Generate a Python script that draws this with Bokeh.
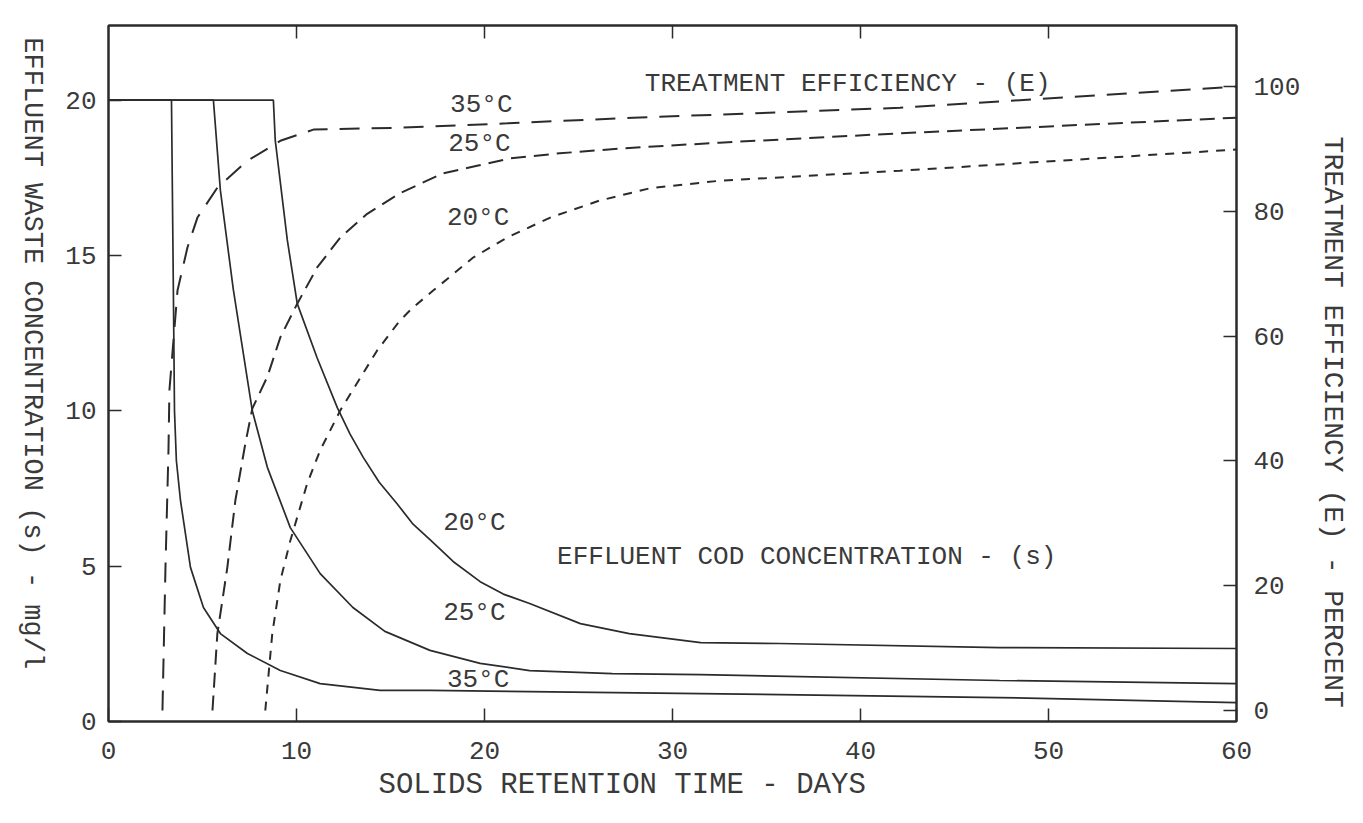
import math
from bokeh.plotting import figure
from bokeh.models import Range1d, LinearAxis, Label, FixedTicker, Title
from bokeh.layouts import row
from bokeh.embed import file_html
from bokeh.resources import INLINE

# ---- data ----
x_ticks = [0, 10, 20, 30, 40, 50, 60]
s_ticks = [0, 5, 10, 15, 20]
e_ticks = [0, 20, 40, 60, 80, 100]

# Effluent COD concentration S (mg/l) vs solids retention time (days)
days_s35 = [0, 3.35, 3.45, 3.51, 3.61, 3.83, 4.36, 5.05, 5.95, 7.39, 9.14, 11.26, 14.45, 17.1, 31.5, 47.4, 60]
s_35 = [20, 20, 13.9, 10.0, 8.4, 7.11, 4.96, 3.67, 2.83, 2.19, 1.64, 1.22, 1.0, 1.0, 0.9, 0.77, 0.61]

days_s25 = [0, 5.58, 5.95, 6.64, 7.65, 8.45, 9.67, 11.26, 13.0, 14.7, 17.1, 19.77, 22.4, 26.8, 31.5, 47.4, 60]
s_25 = [20, 20, 17.1, 13.9, 10.0, 8.18, 6.24, 4.76, 3.67, 2.9, 2.29, 1.87, 1.64, 1.54, 1.51, 1.32, 1.22]

days_s20 = [0, 8.77, 8.87, 9.51, 10.04, 11.1, 12.17, 12.85, 13.55, 14.4, 15.36, 16.2, 17.1, 18.33, 19.77, 21.0, 22.4, 25.1, 27.7, 31.5, 35.7, 47.4, 60]
s_20 = [20, 20, 18.7, 15.5, 13.45, 11.7, 10.1, 9.25, 8.5, 7.7, 7.0, 6.35, 5.85, 5.15, 4.5, 4.1, 3.8, 3.15, 2.83, 2.54, 2.51, 2.38, 2.35]

# Treatment efficiency E (percent)
days_e35 = [2.87, 3.03, 3.19, 3.24, 3.67, 4.2, 4.73, 5.79, 7.39, 9.14, 10.9, 15.5, 21.2, 27.9, 32.5, 42.1, 60]
e_35 = [0, 22.9, 41.7, 51.3, 67.3, 74.2, 79.0, 83.8, 88.1, 91.3, 93.1, 93.4, 94.1, 95.0, 95.5, 96.6, 100.0]

days_e25 = [5.53, 5.79, 6.32, 6.75, 7.28, 7.65, 8.45, 9.14, 10.04, 11.1, 12.33, 13.76, 15.5, 17.8, 19.6, 21.4, 24.0, 27.9, 32.5, 42.1, 60]
e_25 = [0, 12.3, 22.9, 33.7, 42.8, 48.4, 53.5, 59.8, 65.2, 71.0, 75.8, 79.6, 82.9, 86.1, 87.3, 88.5, 89.3, 90.2, 91.0, 92.5, 95.0]

days_e20 = [8.34, 8.71, 9.14, 9.67, 10.57, 11.26, 12.33, 14.29, 15.5, 16.2, 17.27, 19.4, 21.2, 23.5, 26.1, 28.8, 32.5, 42.1, 60]
e_20 = [0, 12.3, 20.8, 27.2, 36.4, 41.7, 48.1, 57.7, 62.5, 64.6, 67.3, 72.6, 75.8, 79.0, 81.7, 83.7, 84.9, 86.5, 89.9]

FONT = "Liberation Mono"
INK = "#2b2b2b"
TXT = "#3a3a3a"

W, H = 1347, 807
LEFT_W = 60
RIGHT_W = 44

def title_strip(width, cx, cy, text, size):
    s = figure(width=width, height=H, x_range=Range1d(0, 1), y_range=Range1d(0, 1),
               output_backend="svg", toolbar_location=None,
               min_border_left=0, min_border_right=0, min_border_top=0, min_border_bottom=0)
    s.axis.visible = False
    s.grid.visible = False
    s.outline_line_color = None
    s.add_layout(Label(x=cx / width, y=1 - cy / H, text=text,
                       text_font=FONT, text_font_size=size, text_color=TXT,
                       text_align="center", text_baseline="middle", angle=-math.pi / 2))
    return s

# vertical titles that read from top to bottom, as in the reference
pl = title_strip(LEFT_W, 31, 380, "EFFLUENT WASTE CONCENTRATION (s) - mg/l", "27px")
pr = title_strip(RIGHT_W, 29, 460, "TREATMENT EFFICIENCY (E) - PERCENT", "28px")

p = figure(width=W - LEFT_W - RIGHT_W, height=H,
           x_range=Range1d(0, 60), y_range=Range1d(0, 22.4),
           output_backend="svg", toolbar_location=None,
           min_border_left=108 - LEFT_W,
           min_border_right=(W - LEFT_W - RIGHT_W) - (1237 - LEFT_W),
           min_border_top=25, min_border_bottom=86)
p.extra_y_ranges = {"E": Range1d(-1.76, 109.78)}
p.xgrid.visible = False
p.ygrid.visible = False
p.outline_line_color = INK
p.outline_line_width = 2
p.outline_line_alpha = 1.0
p.background_fill_color = "white"
p.border_fill_color = "white"

def style_axis(ax, standoff):
    ax.major_tick_in = 13
    ax.major_tick_out = 0
    ax.minor_tick_line_color = None
    ax.axis_line_color = INK
    ax.axis_line_width = 2
    ax.major_tick_line_color = INK
    ax.major_tick_line_width = 1.5
    ax.major_label_text_font = FONT
    ax.major_label_text_font_size = "26px"
    ax.major_label_text_color = TXT
    ax.major_label_standoff = standoff

p.xaxis.ticker = FixedTicker(ticks=x_ticks)
style_axis(p.xaxis[0], 20)
p.yaxis.ticker = FixedTicker(ticks=s_ticks)
style_axis(p.yaxis[0], 12)

ax_r = LinearAxis(y_range_name="E", ticker=FixedTicker(ticks=e_ticks))
style_axis(ax_r, 17)
p.add_layout(ax_r, "right")

ax_t = LinearAxis(ticker=FixedTicker(ticks=x_ticks[1:-1]))
style_axis(ax_t, 0)
ax_t.major_label_text_font_size = "0px"
ax_t.major_label_text_alpha = 0
p.add_layout(ax_t, "above")

p.add_layout(Title(text="SOLIDS RETENTION TIME - DAYS", align="left", offset=270,
                   text_font=FONT, text_font_size="29px", text_font_style="normal",
                   text_color=TXT, standoff=11), "below")

# solid lines: effluent concentration
for xs, ys in ((days_s35, s_35), (days_s25, s_25), (days_s20, s_20)):
    p.line(xs, ys, line_color=INK, line_width=1.7)

# dashed lines: treatment efficiency
for xs, ys, dash in ((days_e35, e_35, "20 12"), (days_e25, e_25, "15 8"), (days_e20, e_20, "9 8")):
    p.line(xs, ys, line_color=INK, line_width=2, line_dash=dash, y_range_name="E")

def lab(x, y, text, size="26px"):
    p.add_layout(Label(x=x, y=y, text=text, text_font=FONT, text_font_size=size,
                       text_color=TXT, text_align="left", text_baseline="middle"))

lab(18.17, 19.83, "35°C")
lab(18.07, 18.6, "25°C")
lab(18.0, 16.19, "20°C")
lab(17.8, 6.4, "20°C")
lab(17.8, 3.48, "25°C")
lab(18.0, 1.35, "35°C")
lab(28.53, 20.53, "TREATMENT EFFICIENCY - (E)")
lab(23.86, 5.28, "EFFLUENT COD CONCENTRATION - (s)")

layout = row(pl, p, pr)
open("out.html", "w").write(file_html(layout, INLINE))
